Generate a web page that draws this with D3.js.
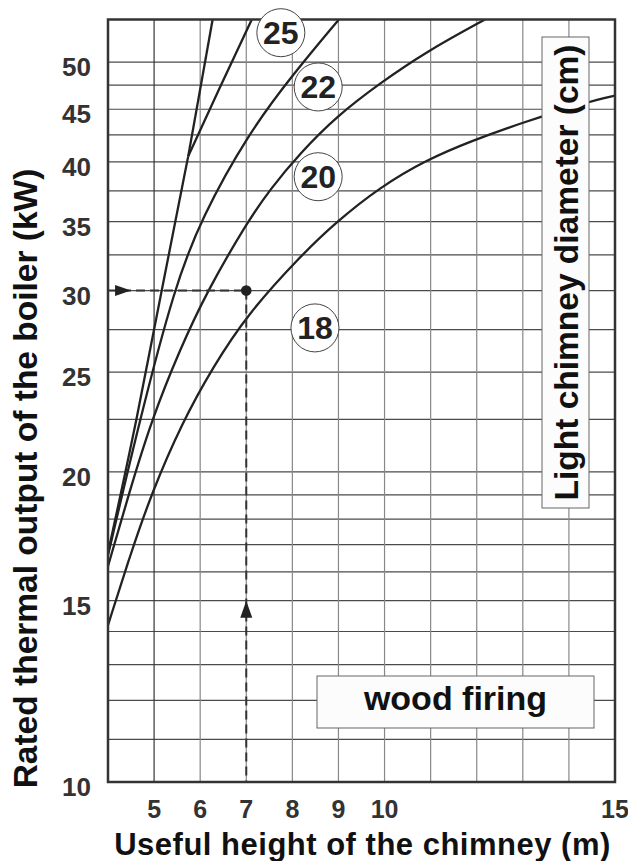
<!DOCTYPE html>
<html>
<head>
<meta charset="utf-8">
<script src="https://cdn.jsdelivr.net/npm/d3@7"></script>
<style>
  body { margin: 0; background: #fff; }
  text { font-family: "Liberation Sans", Arial, Helvetica, sans-serif; font-weight: bold; }
</style>
</head>
<body>
<script>
// chimney height (m) against rated boiler output (kW), one curve per chimney diameter (cm)
var xTicks = [5, 6, 7, 8, 9, 10, 15];
var yTicks = [10, 15, 20, 25, 30, 35, 40, 45, 50];
var xGrid = [5, 6, 7, 8, 9, 10, 11, 12, 13, 14];
var yGrid = [11, 12, 13, 14, 15, 16, 17, 18, 19, 20, 22.5, 25, 27.5, 30, 32.5, 35, 37.5, 40, 42.5, 45, 47.5, 50];

var diameters = ["25", "22", "20", "18"];
// 25 cm: straight lower part up to 40 kW, then its own branch
var curve25low = [[4.0, 16.7], [4.63, 22.5], [5.18, 30.3], [5.74, 40.5]];
var curve25top = [[5.74, 40.5], [6.43, 47.3], [7.12, 55]];
var curve22 = [[4.0, 16.6], [4.69, 22.5], [5.45, 30.3], [6.03, 35.3], [7.04, 42.6], [8.02, 48.7], [9.01, 55]];
var curve20 = [[4.0, 16.2], [4.46, 19.1], [4.95, 22.5], [5.56, 26.3], [6.14, 29.9], [7.01, 34.9],
               [7.51, 37.6], [8.17, 40.8], [8.96, 44.3], [9.9, 47.7], [10.91, 51.2], [12.18, 55]];
var curve18 = [[4.0, 14.2], [4.48, 16.6], [4.95, 19.1], [5.6, 22.3], [6.28, 25.3], [7.01, 28.4],
               [8.17, 32.4], [8.96, 35.0], [9.9, 37.8], [10.91, 40.2], [11.93, 42.0], [12.94, 43.6],
               [14.44, 45.8], [15.0, 46.4]];
var steepLine = [[5.74, 40.5], [6.27, 55]];
var labelPoints = [[7.75, 53.4], [8.56, 47.3], [8.56, 38.7], [8.49, 27.6]];

// worked example: 30 kW read at 7 m
var exampleHeight = 7, exampleOutput = 30;
var arrowRight = [4.5, 30], arrowUp = [7, 15];

var width = 628, height = 861;
var plot = {left: 108, right: 615, top: 19.5, bottom: 782};

var svg = d3.select("body").append("svg")
    .attr("width", width)
    .attr("height", height)
    .style("background", "#fff");

var x = d3.scaleLinear().domain([4, 15]).range([plot.left, plot.right]);
var y = d3.scaleLog().domain([10, 55]).range([plot.bottom, plot.top]);

svg.append("clipPath").attr("id", "clip")
  .append("rect")
    .attr("x", plot.left).attr("y", plot.top)
    .attr("width", plot.right - plot.left).attr("height", plot.bottom - plot.top);

// grid
svg.append("g").selectAll("line")
    .data(yGrid)
  .enter().append("line")
    .attr("x1", plot.left).attr("x2", plot.right)
    .attr("y1", function(d) { return y(d); })
    .attr("y2", function(d) { return y(d); })
    .attr("stroke", "#4a4a4a")
    .attr("stroke-width", 1.2);

svg.append("g").selectAll("line")
    .data(xGrid)
  .enter().append("line")
    .attr("x1", function(d) { return x(d); })
    .attr("x2", function(d) { return x(d); })
    .attr("y1", plot.top).attr("y2", plot.bottom)
    .attr("stroke", function(d) { return d == 5 ? "#333" : "#888"; })
    .attr("stroke-width", 1.2);

// curves
var line = d3.line()
    .curve(d3.curveBasis)
    .x(function(d) { return x(d[0]); })
    .y(function(d) { return y(d[1]); });

svg.append("g")
    .attr("clip-path", "url(#clip)")
  .selectAll("path")
    .data([curve25low, curve25top, curve22, curve20, curve18, steepLine])
  .enter().append("path")
    .attr("d", line)
    .attr("fill", "none")
    .attr("stroke", "#222")
    .attr("stroke-width", 2.3)
    .attr("stroke-linejoin", "round");

// reading example
var dash = svg.append("g").attr("stroke", "#333").attr("stroke-width", 2).attr("stroke-dasharray", "9,5");
dash.append("line")
    .attr("x1", plot.left).attr("x2", x(exampleHeight))
    .attr("y1", y(exampleOutput)).attr("y2", y(exampleOutput));
dash.append("line")
    .attr("x1", x(exampleHeight)).attr("x2", x(exampleHeight))
    .attr("y1", y(exampleOutput)).attr("y2", plot.bottom);

var ax = x(arrowRight[0]), ay = y(arrowRight[1]);
svg.append("path")
    .attr("d", "M" + ax + "," + ay + "L" + (ax - 16) + "," + (ay - 5.5) + "L" + (ax - 16) + "," + (ay + 5.5) + "Z")
    .attr("fill", "#222");
var bx = x(arrowUp[0]), by = y(arrowUp[1]);
svg.append("path")
    .attr("d", "M" + bx + "," + by + "L" + (bx - 6) + "," + (by + 17) + "L" + (bx + 6) + "," + (by + 17) + "Z")
    .attr("fill", "#222");
svg.append("circle")
    .attr("cx", x(exampleHeight)).attr("cy", y(exampleOutput))
    .attr("r", 5.3)
    .attr("fill", "#222");

// frame
svg.append("rect")
    .attr("x", plot.left).attr("y", plot.top)
    .attr("width", plot.right - plot.left).attr("height", plot.bottom - plot.top)
    .attr("fill", "none")
    .attr("stroke", "#333")
    .attr("stroke-width", 2.5);

// diameter labels
var lab = svg.append("g").selectAll("g")
    .data(labelPoints)
  .enter().append("g")
    .attr("transform", function(d) { return "translate(" + x(d[0]) + "," + y(d[1]) + ")"; });
lab.append("circle")
    .attr("r", 24)
    .attr("fill", "#fff")
    .attr("stroke", "#444")
    .attr("stroke-width", 1);
lab.append("text")
    .attr("text-anchor", "middle")
    .attr("dy", "0.36em")
    .style("font-size", "32px")
    .attr("fill", "#222")
    .text(function(d, i) { return diameters[i]; });

// boxes
svg.append("rect")
    .attr("x", 542).attr("y", 37).attr("width", 47).attr("height", 471)
    .attr("fill", "#fcfcfc").attr("stroke", "#666").attr("stroke-width", 1);
svg.append("text")
    .attr("transform", "translate(577.5,272.5) rotate(-90)")
    .attr("text-anchor", "middle")
    .style("font-size", "33.5px")
    .attr("fill", "#111")
    .text("Light chimney diameter (cm)");

svg.append("rect")
    .attr("x", 317).attr("y", 676).attr("width", 277).attr("height", 52)
    .attr("fill", "#fcfcfc").attr("stroke", "#666").attr("stroke-width", 1);
svg.append("text")
    .attr("x", 455.5).attr("y", 710)
    .attr("text-anchor", "middle")
    .style("font-size", "34px")
    .attr("fill", "#111")
    .text("wood firing");

// tick labels
svg.append("g").selectAll("text")
    .data(yTicks)
  .enter().append("text")
    .attr("x", 91)
    .attr("y", function(d) { return y(d) + 14; })
    .attr("text-anchor", "end")
    .style("font-size", "26px")
    .attr("fill", "#333")
    .text(function(d) { return d; });

svg.append("g").selectAll("text")
    .data(xTicks)
  .enter().append("text")
    .attr("x", function(d) { return x(d); })
    .attr("y", 818)
    .attr("text-anchor", "middle")
    .style("font-size", "25px")
    .attr("fill", "#333")
    .text(function(d) { return d; });

// axis titles
svg.append("text")
    .attr("x", 362.5).attr("y", 855)
    .attr("text-anchor", "middle")
    .style("font-size", "31px")
    .style("letter-spacing", "0.5px")
    .attr("fill", "#111")
    .text("Useful height of the chimney (m)");

svg.append("text")
    .attr("transform", "translate(37,478.5) rotate(-90)")
    .attr("text-anchor", "middle")
    .style("font-size", "33.5px")
    .attr("fill", "#111")
    .text("Rated thermal output of the boiler (kW)");
</script>
</body>
</html>
